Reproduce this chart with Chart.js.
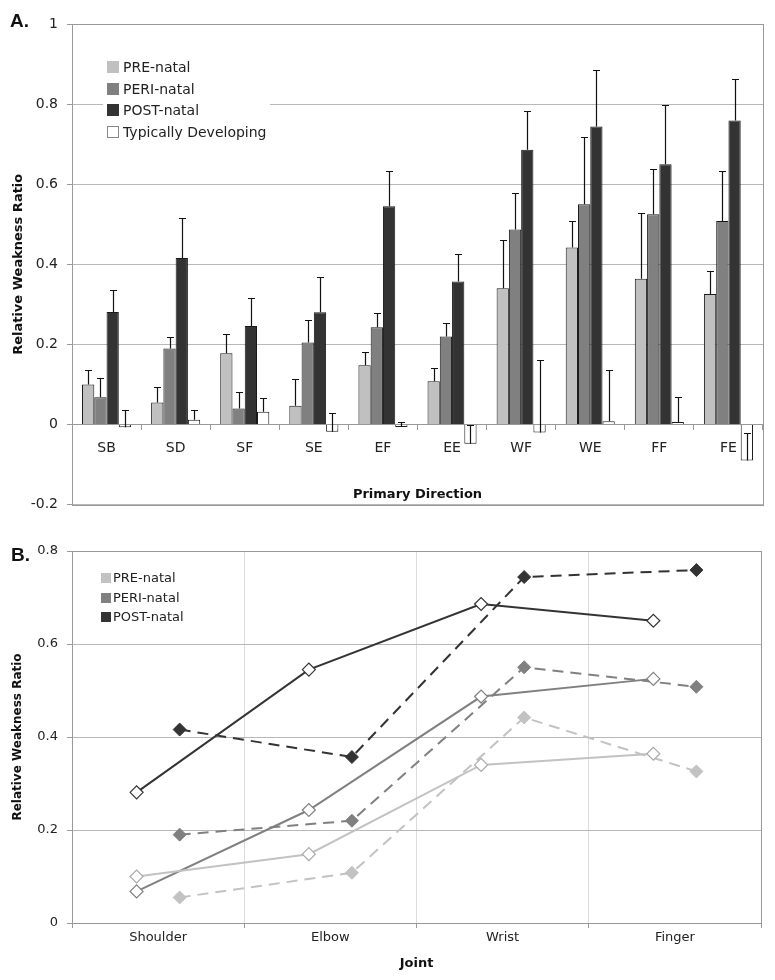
<!DOCTYPE html>
<html lang="en">
<head>
<meta charset="UTF-8">
<title>Relative Weakness Ratio</title>
<script src="https://cdn.jsdelivr.net/npm/chart.js"></script>
<style>
  body { margin: 0; background: #fff; }
  .page { position: relative; width: 775px; height: 980px; }
  .panel { position: absolute; left: 0; }
  .tag { position: absolute; font: bold 19px 'Liberation Sans', Arial, sans-serif; color: #111; }
</style>
</head>
<body>
<div class="page">
  <canvas id="chartA" class="panel" width="775" height="522" style="top:0"></canvas>
  <canvas id="chartB" class="panel" width="775" height="468" style="top:512px"></canvas>
  <div class="tag" style="left:10px; top:10px">A.</div>
  <div class="tag" style="left:11px; top:544px">B.</div>
</div>

<script>
    // values
    const directions = ['SB', 'SD', 'SF', 'SE', 'EF', 'EE', 'WF', 'WE', 'FF', 'FE'];
    const seriesNames = ['PRE-natal', 'PERI-natal', 'POST-natal', 'Typically Developing'];

    const preVals  = [0.100, 0.055, 0.178, 0.047, 0.148, 0.108, 0.340, 0.442, 0.364, 0.326];
    const periVals = [0.068, 0.190, 0.040, 0.205, 0.243, 0.220, 0.487, 0.550, 0.525, 0.508];
    const postVals = [0.281, 0.416, 0.246, 0.280, 0.545, 0.357, 0.686, 0.744, 0.650, 0.759];
    const tdVals   = [-0.007, 0.012, 0.032, -0.018, -0.006, -0.048, -0.020, 0.008, 0.006, -0.090];

    // upper error bar lengths
    const preErr  = [0.035, 0.038, 0.047, 0.066, 0.034, 0.033, 0.120, 0.067, 0.163, 0.058];
    const periErr = [0.047, 0.028, 0.041, 0.057, 0.035, 0.034, 0.091, 0.168, 0.112, 0.124];
    const postErr = [0.055, 0.100, 0.070, 0.088, 0.089, 0.069, 0.097, 0.141, 0.147, 0.103];
    const tdErr   = [0.042, 0.023, 0.033, 0.046, 0.013, 0.048, 0.182, 0.128, 0.062, 0.069];

    const joints = ['Shoulder', 'Elbow', 'Wrist', 'Finger'];
    const flexIdx = [0, 4, 6, 8];   // SB, EF, WF, FF  -> solid lines
    const extIdx  = [1, 5, 7, 9];   // SD, EE, WE, FE  -> dashed lines

    const yTicksA = [-0.2, 0, 0.2, 0.4, 0.6, 0.8, 1];
    const yTicksB = [0, 0.2, 0.4, 0.6, 0.8];
    const xTicksB = [0, 0.5, 1, 1.5, 2, 2.5, 3, 3.5, 4];

    const barValues = [preVals, periVals, postVals, tdVals];
    const barErrors = [preErr, periErr, postErr, tdErr];
    const barColors = ['#c0c0c0', '#808080', '#333333', '#ffffff'];
    const lineColors = ['#c2c2c2', '#808080', '#333333'];

    const FONT = "'DejaVu Sans', Verdana, sans-serif";
    const INK = '#222';
    const FRAME = '#999';

    const errorBars = {
        id: 'errorBars',
        afterDatasetsDraw(chart) {
            const ctx = chart.ctx;
            const y = chart.scales.y;
            chart.data.datasets.forEach((ds, di) => {
                if (!ds.errors) return;
                const meta = chart.getDatasetMeta(di);
                ctx.save();
                ctx.strokeStyle = '#111';
                ctx.lineWidth = 1.2;
                meta.data.forEach((bar, i) => {
                    const x = Math.round(bar.x) + 0.5;
                    const top = Math.round(y.getPixelForValue(ds.data[i] + ds.errors[i])) + 0.5;
                    ctx.beginPath();
                    ctx.moveTo(x, bar.y);
                    ctx.lineTo(x, top);
                    ctx.moveTo(x - 3.5, top);
                    ctx.lineTo(x + 3.5, top);
                    ctx.stroke();
                });
                ctx.restore();
            });
        }
    };

    const plotFrame = {
        id: 'plotFrame',
        afterDraw(chart, args, opts) {
            const { left, top, right, bottom } = chart.chartArea;
            const ctx = chart.ctx;
            ctx.save();
            ctx.strokeStyle = opts.color || FRAME;
            ctx.lineWidth = 1;
            ctx.strokeRect(Math.round(left) + 0.5, Math.round(top) + 0.5,
                Math.round(right - left), Math.round(bottom - top));
            ctx.restore();
        }
    };

    const boxLegend = {
        id: 'boxLegend',
        afterDraw(chart, args, o) {
            const ctx = chart.ctx;
            ctx.save();
            if (o.bg) {
                ctx.fillStyle = '#fff';
                ctx.fillRect(o.bg[0], o.bg[1], o.bg[2], o.bg[3]);
            }
            ctx.font = o.font;
            ctx.textBaseline = 'middle';
            o.items.forEach((it, i) => {
                const cy = Math.round(o.y + i * o.rowH);
                const bx = o.x, by = cy - o.box / 2;
                ctx.fillStyle = it.fill;
                ctx.fillRect(bx, by, o.box, o.box);
                ctx.strokeStyle = it.stroke;
                ctx.lineWidth = 1;
                ctx.strokeRect(bx + 0.5, by + 0.5, o.box - 1, o.box - 1);
                ctx.fillStyle = INK;
                ctx.fillText(it.label, o.textX, cy + 1);
            });
            ctx.restore();
        }
    };

    const fmt = v => String(+v.toFixed(2));

    // ---- A. bar chart ----
    new Chart(document.getElementById('chartA'), {
        type: 'bar',
        data: {
            labels: directions,
            datasets: seriesNames.map((name, k) => ({
                label: name,
                data: barValues[k],
                errors: barErrors[k],
                backgroundColor: barColors[k],
                borderColor: '#1a1a1a',
                borderWidth: 1,
                categoryPercentage: 0.71,
                barPercentage: 1
            }))
        },
        options: {
            responsive: false,
            animation: false,
            layout: { padding: { top: 24, right: 12, bottom: 7, left: 0 } },
            scales: {
                x: {
                    position: { y: 0 },
                    grid: { drawOnChartArea: false, tickLength: 5, color: FRAME },
                    border: { color: FRAME },
                    ticks: { padding: 10, color: INK, font: { family: FONT, size: 14 } },
                    title: {
                        display: true, text: 'Primary Direction', color: '#111',
                        font: { family: FONT, size: 13, weight: 'bold' },
                        padding: { top: 21, bottom: 0 }
                    }
                },
                y: {
                    min: -0.2,
                    max: 1,
                    afterBuildTicks: s => { s.ticks = yTicksA.map(v => ({ value: v })); },
                    afterFit: s => { s.width = 72; },
                    grid: { color: '#b8b8b8', tickColor: FRAME, tickLength: 5 },
                    border: { color: FRAME },
                    ticks: { padding: 9, color: INK, font: { family: FONT, size: 14 }, callback: fmt },
                    title: {
                        display: true, text: 'Relative Weakness Ratio', color: '#111',
                        font: { family: FONT, size: 13, weight: 'bold' },
                        padding: { top: 11 }
                    }
                }
            },
            plugins: {
                legend: { display: false },
                tooltip: { enabled: false },
                plotFrame: { color: FRAME },
                boxLegend: {
                    bg: [103, 54, 167, 90],
                    x: 107, textX: 123, y: 67, rowH: 21.5, box: 12,
                    font: '14px ' + FONT,
                    items: seriesNames.map((name, k) => ({
                        label: name, fill: barColors[k], stroke: k === 3 ? '#888' : barColors[k]
                    }))
                }
            }
        },
        plugins: [errorBars, plotFrame, boxLegend]
    });

    // ---- B. line chart ----
    const lineSets = [];
    for (let k = 0; k < 3; k++) {
        lineSets.push({
            label: seriesNames[k] + ' (flexion)',
            data: joints.map((j, i) => ({ x: i + 0.375, y: barValues[k][flexIdx[i]] })),
            borderColor: lineColors[k],
            borderWidth: 2,
            pointStyle: 'rectRot',
            pointRadius: 6.5,
            pointBackgroundColor: '#fff',
            pointBorderColor: k === 0 ? '#aaa' : lineColors[k],
            pointBorderWidth: 1.2
        });
        lineSets.push({
            label: seriesNames[k] + ' (extension)',
            data: joints.map((j, i) => ({ x: i + 0.625, y: barValues[k][extIdx[i]] })),
            borderColor: lineColors[k],
            borderWidth: 2,
            borderDash: [11, 7],
            pointStyle: 'rectRot',
            pointRadius: 6.5,
            pointBackgroundColor: lineColors[k],
            pointBorderColor: lineColors[k],
            pointBorderWidth: 1
        });
    }

    new Chart(document.getElementById('chartB'), {
        type: 'line',
        data: { datasets: lineSets },
        options: {
            responsive: false,
            animation: false,
            layout: { padding: { top: 39, right: 14, bottom: 0, left: 0 } },
            scales: {
                x: {
                    type: 'linear',
                    min: 0,
                    max: 4,
                    afterBuildTicks: s => { s.ticks = xTicksB.map(v => ({ value: v })); },
                    afterFit: s => { s.height = 57; },
                    grid: {
                        color: c => Number.isInteger(c.tick.value) ? '#dcdcdc' : 'rgba(0,0,0,0)',
                        tickColor: c => Number.isInteger(c.tick.value) ? FRAME : 'rgba(0,0,0,0)',
                        tickLength: 5
                    },
                    border: { color: FRAME },
                    ticks: {
                        autoSkip: false, maxRotation: 0, padding: 2, color: INK,
                        font: { family: FONT, size: 13 },
                        callback: v => Number.isInteger(v) ? '' : joints[Math.floor(v)]
                    },
                    title: {
                        display: true, text: 'Joint', color: '#111',
                        font: { family: FONT, size: 13, weight: 'bold' },
                        padding: { top: 0, bottom: 9 }
                    }
                },
                y: {
                    min: 0,
                    max: 0.8,
                    afterBuildTicks: s => { s.ticks = yTicksB.map(v => ({ value: v })); },
                    afterFit: s => { s.width = 72; },
                    grid: { color: '#b8b8b8', tickColor: FRAME, tickLength: 5 },
                    border: { color: FRAME },
                    ticks: { padding: 9, color: INK, font: { family: FONT, size: 13 }, callback: fmt },
                    title: {
                        display: true, text: 'Relative Weakness Ratio', color: '#111',
                        font: { family: FONT, size: 12, weight: 'bold' },
                        padding: { top: 11 }
                    }
                }
            },
            plugins: {
                legend: { display: false },
                tooltip: { enabled: false },
                plotFrame: { color: FRAME },
                boxLegend: {
                    x: 101, textX: 113, y: 66, rowH: 19.5, box: 10,
                    font: '13px ' + FONT,
                    items: seriesNames.slice(0, 3).map((name, k) => ({
                        label: name, fill: lineColors[k], stroke: lineColors[k]
                    }))
                }
            }
        },
        plugins: [plotFrame, boxLegend]
    });
</script>
</body>
</html>
